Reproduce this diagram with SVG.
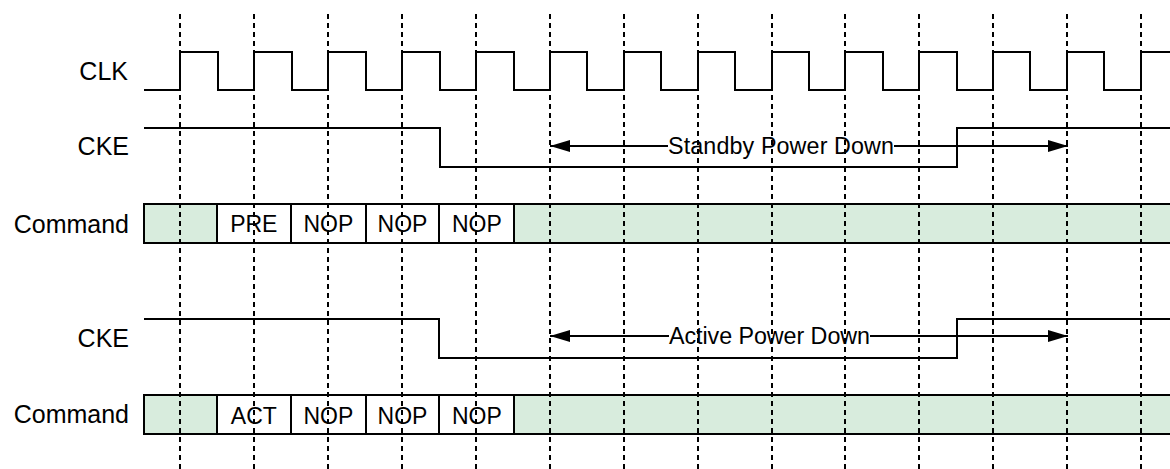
<svg xmlns="http://www.w3.org/2000/svg" width="1170" height="469" viewBox="0 0 1170 469">
<defs>
<style>
.lbl{font-family:"Liberation Sans",Arial,sans-serif;font-size:25px;fill:#000;text-anchor:end}
.btx{font-family:"Liberation Sans",Arial,sans-serif;font-size:23px;fill:#000;text-anchor:middle}
.atx{font-family:"Liberation Sans",Arial,sans-serif;font-size:23.3px;fill:#000}
.sig{fill:none;stroke:#000;stroke-width:2}
.g{fill:#d8ecdd;stroke:#000;stroke-width:2}
.w{fill:#fff;stroke:#000;stroke-width:2}
.grid{stroke:#000;stroke-width:2;stroke-dasharray:5 4}
.arr{stroke:#000;stroke-width:2;fill:none}
</style>
<marker id="ah" viewBox="0 0 20 12" refX="20" refY="6" markerWidth="20" markerHeight="12" markerUnits="userSpaceOnUse" orient="auto-start-reverse">
<path d="M0,0 L20,6 L0,12 Z" fill="#000"/>
</marker>
</defs>
<rect width="1170" height="469" fill="#fff"/>

<g id="clk">
<text class="lbl" x="128" y="80">CLK</text>
<path class="sig" d="M144,90 H180 V52 H218 V90 H254 V52 H292 V90 H328 V52 H366 V90 H402 V52 H440 V90 H476 V52 H514 V90 H550 V52 H587 V90 H624 V52 H661 V90 H698 V52 H735 V90 H772 V52 H809 V90 H845 V52 H883 V90 H919 V52 H957 V90 H993 V52 H1030 V90 H1067 V52 H1104 V90 H1141 V52 H1170"/>
</g>

<g id="cke1">
<text class="lbl" x="129" y="155">CKE</text>
<path class="sig" d="M144,128 H440 V167 H957 V128 H1170"/>
</g>

<g id="cmd1">
<text class="lbl" x="129" y="232.5">Command</text>
<rect class="g" x="144" y="204" width="73" height="39"/>
<rect class="w" x="217" y="204" width="74" height="39"/>
<rect class="w" x="291" y="204" width="75" height="39"/>
<rect class="w" x="366" y="204" width="73" height="39"/>
<rect class="w" x="439" y="204" width="75" height="39"/>
<rect class="g" x="514" y="204" width="660" height="39"/>
<text class="btx" x="253.8" y="232.3">PRE</text>
<text class="btx" x="328.3" y="232.3">NOP</text>
<text class="btx" x="402.5" y="232.3">NOP</text>
<text class="btx" x="476.8" y="232.3">NOP</text>
</g>

<g id="cke2">
<text class="lbl" x="129" y="346.7">CKE</text>
<path class="sig" d="M144,319 H439 V358 H957 V319 H1170"/>
</g>

<g id="cmd2">
<text class="lbl" x="129" y="423.3">Command</text>
<rect class="g" x="144" y="395" width="73" height="39"/>
<rect class="w" x="217" y="395" width="74" height="39"/>
<rect class="w" x="291" y="395" width="75" height="39"/>
<rect class="w" x="366" y="395" width="73" height="39"/>
<rect class="w" x="439" y="395" width="75" height="39"/>
<rect class="g" x="514" y="395" width="660" height="39"/>
<text class="btx" x="253.8" y="423.5">ACT</text>
<text class="btx" x="328.3" y="423.5">NOP</text>
<text class="btx" x="402.5" y="423.5">NOP</text>
<text class="btx" x="476.8" y="423.5">NOP</text>
</g>

<g id="connectors">
<line class="arr" x1="668" y1="146" x2="550" y2="146" marker-end="url(#ah)"/>
<line class="arr" x1="894" y1="146" x2="1068" y2="146" marker-end="url(#ah)"/>
<text class="atx" x="668" y="153.8" textLength="226">Standby Power Down</text>
<line class="arr" x1="669" y1="336" x2="550" y2="336" marker-end="url(#ah)"/>
<line class="arr" x1="870" y1="336" x2="1068" y2="336" marker-end="url(#ah)"/>
<text class="atx" x="669" y="344" textLength="201">Active Power Down</text>
</g>

<g id="grid">
<line class="grid" x1="180" y1="14" x2="180" y2="469"/>
<line class="grid" x1="254" y1="14" x2="254" y2="469"/>
<line class="grid" x1="328" y1="14" x2="328" y2="469"/>
<line class="grid" x1="402" y1="14" x2="402" y2="469"/>
<line class="grid" x1="476" y1="14" x2="476" y2="469"/>
<line class="grid" x1="550" y1="14" x2="550" y2="469"/>
<line class="grid" x1="624" y1="14" x2="624" y2="469"/>
<line class="grid" x1="698" y1="14" x2="698" y2="469"/>
<line class="grid" x1="772" y1="14" x2="772" y2="469"/>
<line class="grid" x1="845" y1="14" x2="845" y2="469"/>
<line class="grid" x1="919" y1="14" x2="919" y2="469"/>
<line class="grid" x1="993" y1="14" x2="993" y2="469"/>
<line class="grid" x1="1067" y1="14" x2="1067" y2="469"/>
<line class="grid" x1="1141" y1="14" x2="1141" y2="469"/>
</g>
</svg>
